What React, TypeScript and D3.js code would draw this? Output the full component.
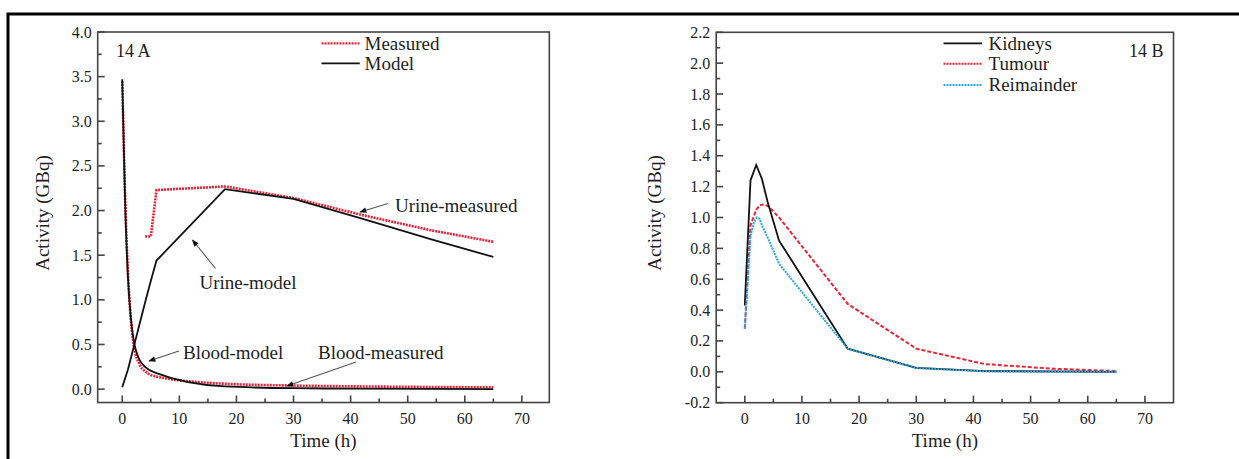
import React from "react";
import * as d3 from "d3";

// ---------- Panel A data ----------
const bloodModelT = [0, 0.5, 1, 1.5, 2, 3, 4, 6, 18, 30, 42, 65];
const bloodModelV = [3.47, 2.1, 1.25, 0.8, 0.55, 0.33, 0.25, 0.18, 0.03, 0.01, 0.005, 0.0];
const bloodMeasT = [0, 0.5, 1, 1.5, 2, 3, 4, 6, 18, 30, 42, 65];
const bloodMeasV = [3.45, 2.15, 1.3, 0.78, 0.5, 0.28, 0.2, 0.14, 0.06, 0.04, 0.03, 0.02];
const urineModelT = [0, 1, 2, 3, 4, 5, 6, 18, 30, 42, 54, 65];
const urineModelV = [0.02, 0.22, 0.47, 0.72, 0.97, 1.21, 1.44, 2.24, 2.13, 1.91, 1.68, 1.48];
const urineMeasT = [4, 5, 6, 18, 30, 42, 54, 65];
const urineMeasV = [1.71, 1.71, 2.23, 2.27, 2.14, 1.95, 1.78, 1.65];

const xTicksMajor = [0, 10, 20, 30, 40, 50, 60, 70];
const xTicksMinor = [5, 15, 25, 35, 45, 55, 65];
const yTicksA = [0, 0.5, 1, 1.5, 2, 2.5, 3, 3.5, 4];
const yMinorA = [0.25, 0.75, 1.25, 1.75, 2.25, 2.75, 3.25, 3.75];

// ---------- Panel B data ----------
const kidneyT = [0, 1, 2, 3, 4, 6, 18, 30, 42, 65];
const kidneyV = [0.43, 1.24, 1.34, 1.25, 1.1, 0.85, 0.15, 0.025, 0.005, 0.0];
const tumourT = [0, 1, 2, 2.6, 3.4, 4.2, 6, 18, 30, 42, 54, 65];
const tumourV = [0.28, 0.95, 1.05, 1.08, 1.085, 1.07, 1.0, 0.44, 0.15, 0.05, 0.02, 0.005];
const remT = [0, 1, 1.6, 2.1, 2.6, 3, 4, 6, 18, 30, 42, 65];
const remV = [0.28, 0.88, 0.97, 1.0, 0.99, 0.95, 0.87, 0.7, 0.15, 0.025, 0.003, 0.0];

const yTicksB = [-0.2, 0, 0.2, 0.4, 0.6, 0.8, 1.0, 1.2, 1.4, 1.6, 1.8, 2.0, 2.2];
const yMinorB = [-0.1, 0.1, 0.3, 0.5, 0.7, 0.9, 1.1, 1.3, 1.5, 1.7, 1.9, 2.1];

const FONT = "'Liberation Serif', 'Times New Roman', serif";
const RED = "#e8243a";
const CYAN = "#2aa9de";
const AXIS = "#444";
const TXT = "#1e1e1e";

type Pt = [number, number];
const zip = (t: number[], v: number[]): Pt[] => t.map((x, i) => [x, v[i]]);

function Axes({ x, y, yTicks, yMinor, fmt }: any) {
  const [x0, x1] = x.range();
  const [y0, y1] = y.range();
  return (
    <g>
      <rect x={x0} y={y1} width={x1 - x0} height={y0 - y1} fill="none" stroke={AXIS} strokeWidth={1.6} />
      {xTicksMajor.map((t) => (
        <g key={"xm" + t}>
          <line x1={x(t)} x2={x(t)} y1={y0} y2={y0 - 7} stroke={AXIS} strokeWidth={1.6} />
          <text x={x(t)} y={y0 + 21} textAnchor="middle" fontFamily={FONT} fontSize={16} fill={TXT}>{t}</text>
        </g>
      ))}
      {xTicksMinor.map((t) => (
        <line key={"xn" + t} x1={x(t)} x2={x(t)} y1={y0} y2={y0 - 4} stroke={AXIS} strokeWidth={1.6} />
      ))}
      {yTicks.map((t: number) => (
        <g key={"ym" + t}>
          <line x1={x0} x2={x0 + 7} y1={y(t)} y2={y(t)} stroke={AXIS} strokeWidth={1.6} />
          <text x={x0 - 6} y={y(t) + 5.5} textAnchor="end" fontFamily={FONT} fontSize={16} fill={TXT}>{fmt(t)}</text>
        </g>
      ))}
      {yMinor.map((t: number) => (
        <line key={"yn" + t} x1={x0} x2={x0 + 4} y1={y(t)} y2={y(t)} stroke={AXIS} strokeWidth={1.6} />
      ))}
      <text x={(x0 + x1) / 2} y={447} textAnchor="middle" fontFamily={FONT} fontSize={19} fill={TXT}>Time (h)</text>
    </g>
  );
}

export default function App() {
  // Panel A scales
  const xA = d3.scaleLinear().domain([-4.3, 74.8]).range([97.7, 549.3]);
  const yA = d3.scaleLinear().domain([-0.15, 4.0]).range([402.5, 32]);
  // Panel B scales
  const xB = d3.scaleLinear().domain([-5, 75]).range([716.2, 1173.5]);
  const yB = d3.scaleLinear().domain([-0.2, 2.2]).range([402.7, 32.3]);

  const lineA = d3.line<Pt>().x((d) => xA(d[0])).y((d) => yA(d[1]));
  const lineAs = d3.line<Pt>().x((d) => xA(d[0])).y((d) => yA(d[1])).curve(d3.curveMonotoneX);
  const lineB = d3.line<Pt>().x((d) => xB(d[0])).y((d) => yB(d[1]));

  const fmt = (v: number) => v.toFixed(1);

  const annot = (x1: number, y1: number, x2: number, y2: number) => (
    <line x1={x1} y1={y1} x2={x2} y2={y2} stroke="#555" strokeWidth={1.1} markerEnd="url(#arr)" />
  );

  return (
    <svg width={1239} height={459} style={{ position: "absolute", left: 0, top: 0, display: "block", background: "#fff" }}>
      <defs>
        <marker id="arr" viewBox="0 0 10 10" refX={9} refY={5} markerWidth={9} markerHeight={7} orient="auto" markerUnits="userSpaceOnUse">
          <path d="M0,1 L10,5 L0,9 Z" fill="#111" />
        </marker>
      </defs>
      <rect x={0} y={0} width={1239} height={459} fill="#fff" />
      <rect x={8} y={14} width={1240} height={460} fill="none" stroke="#000" strokeWidth={3} />

      {/* ---------------- Panel A ---------------- */}
      <Axes x={xA} y={yA} yTicks={yTicksA} yMinor={yMinorA} fmt={fmt} />
      <text transform={`translate(49,213) rotate(-90)`} textAnchor="middle" fontFamily={FONT} fontSize={19} fill={TXT}>Activity (GBq)</text>
      <text x={116} y={57} fontFamily={FONT} fontSize={18} fill={TXT}>14 A</text>

      <path d={lineAs(zip(bloodMeasT, bloodMeasV)) || ""} fill="none" stroke={RED} strokeWidth={2.6} strokeDasharray="2,1" />
      <path d={lineAs(zip(bloodModelT, bloodModelV)) || ""} fill="none" stroke="#111" strokeWidth={1.8} />
      <path d={lineA(zip(urineMeasT, urineMeasV)) || ""} fill="none" stroke={RED} strokeWidth={2.6} strokeDasharray="2,1" />
      <path d={lineA(zip(urineModelT, urineModelV)) || ""} fill="none" stroke="#111" strokeWidth={1.8} />

      {/* legend A */}
      <line x1={321.5} x2={359.8} y1={43.3} y2={43.3} stroke={RED} strokeWidth={2.2} strokeDasharray="2,1" />
      <text x={364.5} y={49.5} fontFamily={FONT} fontSize={19} fill={TXT}>Measured</text>
      <line x1={321.5} x2={359.8} y1={63.3} y2={63.3} stroke="#111" strokeWidth={1.8} />
      <text x={364.5} y={69.5} fontFamily={FONT} fontSize={19} fill={TXT}>Model</text>

      {/* annotations A */}
      <text x={395} y={211.5} fontFamily={FONT} fontSize={19} fill={TXT}>Urine-measured</text>
      {annot(388, 203.5, 360, 212)}
      <text x={199.5} y={288.5} fontFamily={FONT} fontSize={19} fill={TXT}>Urine-model</text>
      {annot(215.5, 268.5, 192.5, 240)}
      <text x={183} y={358.5} fontFamily={FONT} fontSize={19} fill={TXT}>Blood-model</text>
      {annot(179, 351, 149, 361)}
      <text x={318} y={358.5} fontFamily={FONT} fontSize={19} fill={TXT}>Blood-measured</text>
      {annot(356, 362, 287, 386)}

      {/* ---------------- Panel B ---------------- */}
      <Axes x={xB} y={yB} yTicks={yTicksB} yMinor={yMinorB} fmt={fmt} />
      <text transform={`translate(661,213) rotate(-90)`} textAnchor="middle" fontFamily={FONT} fontSize={19} fill={TXT}>Activity (GBq)</text>
      <text x={1129} y={57} fontFamily={FONT} fontSize={18} fill={TXT}>14 B</text>

      <path d={lineB(zip(tumourT, tumourV)) || ""} fill="none" stroke={RED} strokeWidth={2} strokeDasharray="4,2" />
      <path d={lineB(zip(kidneyT, kidneyV)) || ""} fill="none" stroke="#111" strokeWidth={1.8} />
      <path d={lineB(zip(remT, remV)) || ""} fill="none" stroke={CYAN} strokeWidth={2} strokeDasharray="2,1" />

      {/* legend B */}
      <line x1={943.5} x2={982} y1={43.3} y2={43.3} stroke="#111" strokeWidth={1.8} />
      <text x={988.5} y={49.5} fontFamily={FONT} fontSize={19} fill={TXT}>Kidneys</text>
      <line x1={943.5} x2={982} y1={63.8} y2={63.8} stroke={RED} strokeWidth={2} strokeDasharray="2,1" />
      <text x={988.5} y={70} fontFamily={FONT} fontSize={19} fill={TXT}>Tumour</text>
      <line x1={943.5} x2={982} y1={85} y2={85} stroke={CYAN} strokeWidth={2} strokeDasharray="2,1" />
      <text x={988.5} y={91.2} fontFamily={FONT} fontSize={19} fill={TXT}>Reimainder</text>
    </svg>
  );
}
